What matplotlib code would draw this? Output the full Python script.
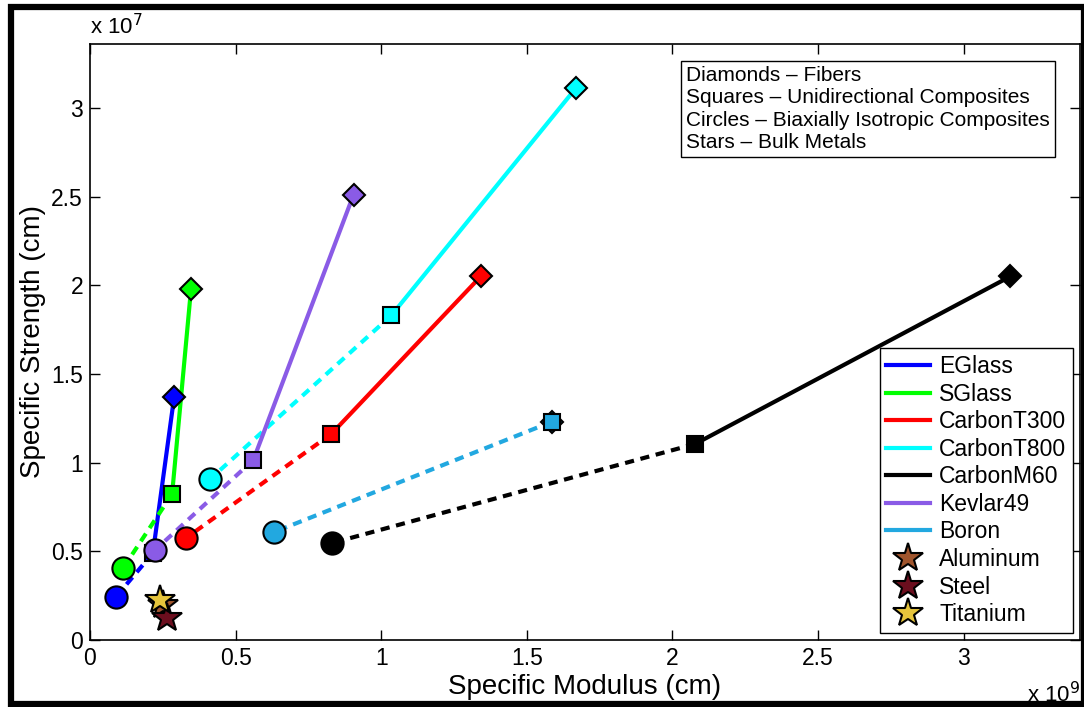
import numpy as np
import matplotlib
matplotlib.use('Agg')
import matplotlib.pyplot as plt
from matplotlib.lines import Line2D
from matplotlib.patches import Rectangle
from matplotlib.ticker import FuncFormatter, MultipleLocator

plt.rcParams['font.family'] = ['Liberation Sans', 'DejaVu Sans']

# fiber (diamond) -> unidirectional (square) -> biaxially isotropic (circle)
materials = ['EGlass', 'SGlass', 'CarbonT300', 'CarbonT800', 'CarbonM60', 'Kevlar49', 'Boron']
colors = ['#0000ff', '#00ff00', '#ff0000', '#00ffff', '#000000', '#8a5be6', '#22a8e0']

fiber_mod = [0.289e9, 0.347e9, 1.342e9, 1.668e9, 3.161e9, 0.905e9, 1.586e9]
fiber_str = [1.37e7, 1.98e7, 2.05e7, 3.11e7, 2.05e7, 2.51e7, 1.23e7]
uni_mod = [0.216e9, 0.282e9, 0.829e9, 1.035e9, 2.078e9, 0.561e9, 1.586e9]
uni_str = [0.49e7, 0.823e7, 1.162e7, 1.83e7, 1.105e7, 1.015e7, 1.23e7]
biax_mod = [0.089e9, 0.114e9, 0.330e9, 0.413e9, 0.832e9, 0.224e9, 0.633e9]
biax_str = [0.243e7, 0.406e7, 0.575e7, 0.908e7, 0.547e7, 0.508e7, 0.609e7]

metals = ['Aluminum', 'Steel', 'Titanium']
metal_colors = ['#a0552d', '#6b0e1e', '#e6c53c']
metal_mod = [0.25e9, 0.265e9, 0.241e9]
metal_str = [0.20e7, 0.124e7, 0.226e7]

fig = plt.figure(figsize=(10.84, 7.07), dpi=100)
ax = fig.add_axes([90 / 1084, 67 / 707, 990 / 1084, 596 / 707])

handles = []
for i, name in enumerate(materials):
    c = colors[i]
    ax.plot([uni_mod[i], biax_mod[i]], [uni_str[i], biax_str[i]], '--', color=c, lw=3,
            dashes=(2.2, 1.6), zorder=2)
    ax.plot([fiber_mod[i], uni_mod[i]], [fiber_str[i], uni_str[i]], '-', color=c, lw=3, zorder=2)
    ax.plot(fiber_mod[i], fiber_str[i], 'D', ms=11, mfc=c, mec='k', mew=1.5, zorder=3)
    ax.plot(uni_mod[i], uni_str[i], 's', ms=11, mfc=c, mec='k', mew=1.5, zorder=3)
    ax.plot(biax_mod[i], biax_str[i], 'o', ms=16, mfc=c, mec='k', mew=1.5, zorder=3)
    handles.append(Line2D([], [], color=c, lw=3, label=name))

for i, name in enumerate(metals):
    h, = ax.plot(metal_mod[i], metal_str[i], '*', ms=22, mfc=metal_colors[i], mec='k',
                 mew=1.5, ls='none', label=name, zorder=4)
    handles.append(h)

ax.set_xlim(0, 3.4e9)
ax.set_ylim(0, 3.36e7)
ax.xaxis.set_major_locator(MultipleLocator(0.5e9))
ax.yaxis.set_major_locator(MultipleLocator(0.5e7))
ax.xaxis.set_major_formatter(FuncFormatter(lambda v, p: '%g' % (v / 1e9)))
ax.yaxis.set_major_formatter(FuncFormatter(lambda v, p: '%g' % (v / 1e7)))
ax.tick_params(direction='in', top=True, right=True, length=7, width=1, labelsize=16.5,
               pad=5)
for s in ax.spines.values():
    s.set_linewidth(1.2)

ax.set_xlabel('Specific Modulus (cm)', fontsize=20, labelpad=3)
ax.set_ylabel('Specific Strength (cm)', fontsize=20, labelpad=4)
ax.text(1.0, -0.071, r'x 10$^9$', transform=ax.transAxes, ha='right', va='top', fontsize=16)
ax.text(0.0, 1.008, r'x 10$^7$', transform=ax.transAxes, ha='left', va='bottom', fontsize=16)

ax.text(0.602, 0.963, 'Diamonds \u2013 Fibers\nSquares \u2013 Unidirectional Composites\n'
        'Circles \u2013 Biaxially Isotropic Composites\nStars \u2013 Bulk Metals',
        transform=ax.transAxes, ha='left', va='top', fontsize=15, linespacing=1.22,
        bbox=dict(boxstyle='square,pad=0.25', fc='white', ec='k', lw=1))

leg = ax.legend(handles=handles, loc='lower right', fontsize=16.5, frameon=True,
                fancybox=False, edgecolor='k', framealpha=1, handlelength=1.9,
                labelspacing=0.2, borderaxespad=0.3, handletextpad=0.4,
                borderpad=0.3)
leg.get_frame().set_linewidth(1)

# outer frame
fig.patches.append(Rectangle((11 / 1084, 3.5 / 707), 1073 / 1084, 697 / 707,
                             transform=fig.transFigure, fill=False, ec='k', lw=4.5))

fig.savefig('out.png', dpi=100)
